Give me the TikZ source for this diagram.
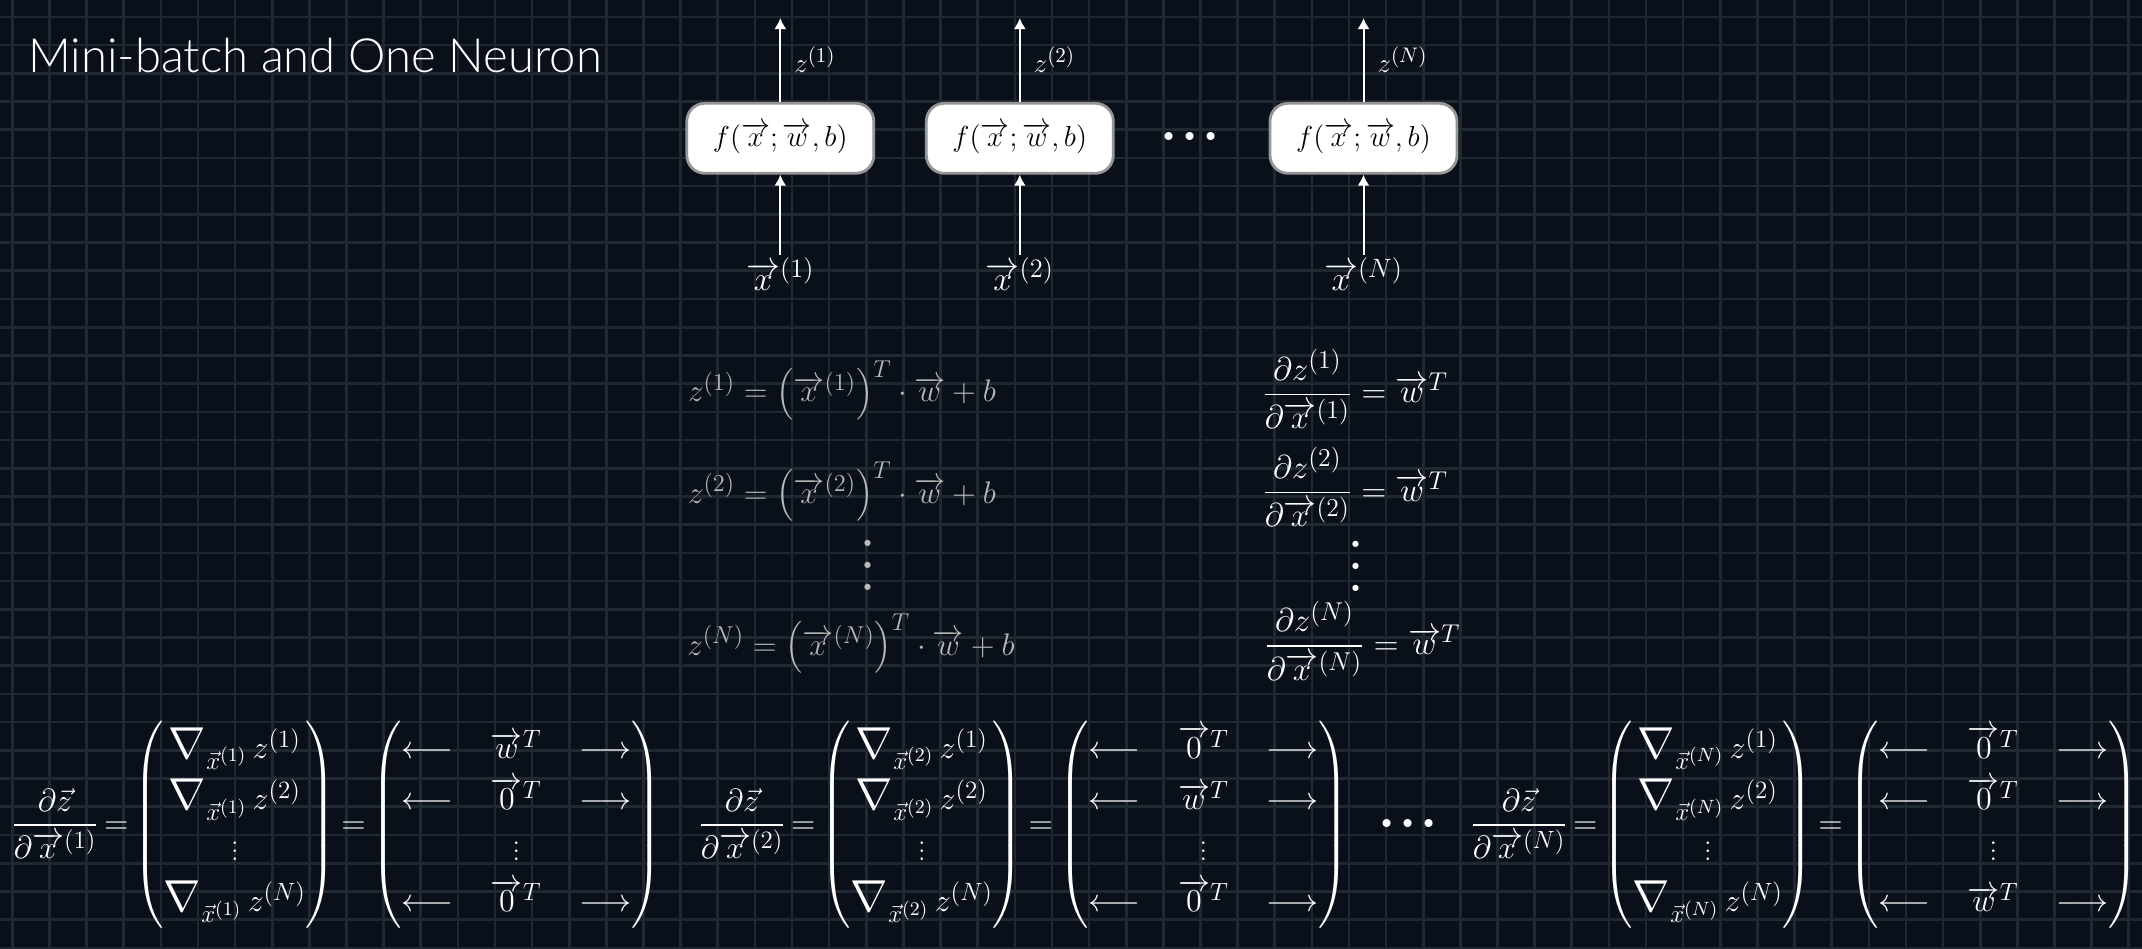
\documentclass[tikz,border=0pt]{standalone}
\usepackage{fix-cm}
\usepackage{amsmath}
\usepackage{graphicx}
\usepackage{fontspec}
\usetikzlibrary{arrows.meta}
\newfontfamily\titlefont{Lato Light}
\renewcommand{\defaultscriptratio}{.78}
\renewcommand{\defaultscriptscriptratio}{.6}
\definecolor{slate}{RGB}{10,16,26}
\definecolor{gridcol}{RGB}{32,40,50}
\definecolor{rim}{RGB}{150,150,150}
\definecolor{dimtext}{RGB}{185,185,185}
\newcommand{\bnab}{\mathord{\scalebox{1.4}{$\nabla$}}}
\newcommand{\gradz}[2]{\bnab_{\vec{x}^{(#1)}}\,z^{(#2)}}
\newcommand{\rowT}[1]{\longleftarrow & \overrightarrow{#1}^{T} & \longrightarrow}
\newcommand{\tallvdots}{\vbox{\baselineskip=11pt\lineskiplimit=0pt\hbox{.}\hbox{.}\hbox{.}}}
\newcommand{\threedots}{${\cdot}{\cdot}{\cdot}$}

\begin{document}
\begin{tikzpicture}[x=0.5pt,y=0.5pt]
\tikzstyle{gridln}=[gridcol, line width=1.3pt]
\tikzstyle{title}=[text=white, inner sep=0pt, font=\titlefont\fontsize{23.6}{28}\selectfont]
\tikzstyle{neuron}=[draw=rim, line width=1.4pt, fill=white, text=black, rounded corners=9pt, minimum width=93.5pt, minimum height=35pt, inner sep=0pt, font=\fontsize{14.5}{17}\selectfont]
\tikzstyle{flow}=[white, line width=1pt, -{Latex[length=5.5pt,width=6pt]}]
\tikzstyle{zlabel}=[right=5.5pt, text=white, inner sep=1pt, font=\fontsize{13.5}{16}\selectfont]
\tikzstyle{xlabel}=[text=white, inner sep=1pt, font=\fontsize{17}{20}\selectfont]
\tikzstyle{bigdots}=[text=white, inner sep=0pt, font=\fontsize{38}{40}\selectfont]
\tikzstyle{lefteq}=[text=dimtext, inner sep=0pt, font=\fontsize{15.6}{18.7}\selectfont]
\tikzstyle{righteq}=[text=white, inner sep=0pt, font=\fontsize{16.5}{19.8}\selectfont]
\tikzstyle{dotsv}=[inner sep=0pt, font=\fontsize{38}{40}\selectfont]
\tikzstyle{gradrow}=[text=white, inner sep=0pt, font={\fontsize{16}{19.2}\selectfont\renewcommand{\arraystretch}{1.33}\setlength{\arraycolsep}{9.5pt}\thickmuskip=3mu plus 3mu}]

% background and grid
\useasboundingbox (0,0) rectangle (2142,-948);
\fill [slate] (0,0) rectangle (2142,-948);
\foreach \i in {0,...,57}
  \draw [gridln] ({12.3+37.13*\i},0) -- ({12.3+37.13*\i},-948);
\foreach \j in {0,...,33}
  \draw [gridln] (0,{-16.9-28.21*\j}) -- (2142,{-16.9-28.21*\j});

\node [title, anchor=base west] (title) at (28,-72) {Mini-batch and One Neuron};

% neurons
\node [neuron] (f1) at (780.3,-138.3) {$f(\overrightarrow{x};\overrightarrow{w},b)$};
\node [neuron] (f2) at (1019.8,-138.3) {$f(\overrightarrow{x};\overrightarrow{w},b)$};
\node [neuron] (fN) at (1363.5,-138.3) {$f(\overrightarrow{x};\overrightarrow{w},b)$};
\node [bigdots] (hdots) at (1190.5,-138.3) {\threedots};
\coordinate (z1) at (780.3,-18);
\coordinate (z2) at (1019.8,-18);
\coordinate (zN) at (1363.5,-18);
\node [xlabel] (x1) at (780.3,-274) {$\overrightarrow{x}^{(1)}$};
\node [xlabel] (x2) at (1019.8,-274) {$\overrightarrow{x}^{(2)}$};
\node [xlabel] (xN) at (1363.5,-274) {$\overrightarrow{x}^{(N)}$};
\draw [flow] (f1) -- node [zlabel] {$z^{(1)}$} (z1);
\draw [flow] (f2) -- node [zlabel] {$z^{(2)}$} (z2);
\draw [flow] (fN) -- node [zlabel] {$z^{(N)}$} (zN);
\draw [flow] (x1) -- (f1);
\draw [flow] (x2) -- (f2);
\draw [flow] (xN) -- (fN);

% forward equations
\node [lefteq, anchor=base] (e1) at (842,-401.7) {$z^{(1)} = \left(\overrightarrow{x}^{(1)}\right)^{T} \cdot \overrightarrow{w} + b$};
\node [lefteq, anchor=base] (e2) at (842,-503) {$z^{(2)} = \left(\overrightarrow{x}^{(2)}\right)^{T} \cdot \overrightarrow{w} + b$};
\node [lefteq, dotsv] (evd) at (868,-565) {\tallvdots};
\node [lefteq, anchor=base] (eN) at (851,-655) {$z^{(N)} = \left(\overrightarrow{x}^{(N)}\right)^{T} \cdot \overrightarrow{w} + b$};

% local derivatives
\node [righteq, anchor=base west] (d1) at (1262,-402.5) {$\dfrac{\partial z^{(1)}}{\partial \overrightarrow{x}^{(1)}} = \overrightarrow{w}^{T}$};
\node [righteq, anchor=base west] (d2) at (1262,-501) {$\dfrac{\partial z^{(2)}}{\partial \overrightarrow{x}^{(2)}} = \overrightarrow{w}^{T}$};
\node [righteq, dotsv] (dvd) at (1356,-566) {\tallvdots};
\node [righteq, anchor=base west] (dN) at (1264,-654.3) {$\dfrac{\partial z^{(N)}}{\partial \overrightarrow{x}^{(N)}} = \overrightarrow{w}^{T}$};

% jacobians
\node [gradrow, anchor=base west] (g1) at (11,-833) {$\dfrac{\partial \vec{z}}{\partial \overrightarrow{x}^{(1)}} =
  \begin{pmatrix} \gradz{1}{1} \\ \gradz{1}{2} \\ \vdots \\ \gradz{1}{N} \end{pmatrix} =
  \begin{pmatrix} \rowT{w} \\ \rowT{0} \\ & \vdots & \\ \rowT{0} \end{pmatrix}$};
\node [gradrow, anchor=base west] (g2) at (698,-833) {$\dfrac{\partial \vec{z}}{\partial \overrightarrow{x}^{(2)}} =
  \begin{pmatrix} \gradz{2}{1} \\ \gradz{2}{2} \\ \vdots \\ \gradz{2}{N} \end{pmatrix} =
  \begin{pmatrix} \rowT{0} \\ \rowT{w} \\ & \vdots & \\ \rowT{0} \end{pmatrix}$};
\node [bigdots] (bdots) at (1408,-826) {\threedots};
\node [gradrow, anchor=base west] (gN) at (1470,-833) {$\dfrac{\partial \vec{z}}{\partial \overrightarrow{x}^{(N)}} =
  \begin{pmatrix} \gradz{N}{1} \\ \gradz{N}{2} \\ \vdots \\ \gradz{N}{N} \end{pmatrix} =
  \begin{pmatrix} \rowT{0} \\ \rowT{0} \\ & \vdots & \\ \rowT{w} \end{pmatrix}$};
\end{tikzpicture}
\end{document}
